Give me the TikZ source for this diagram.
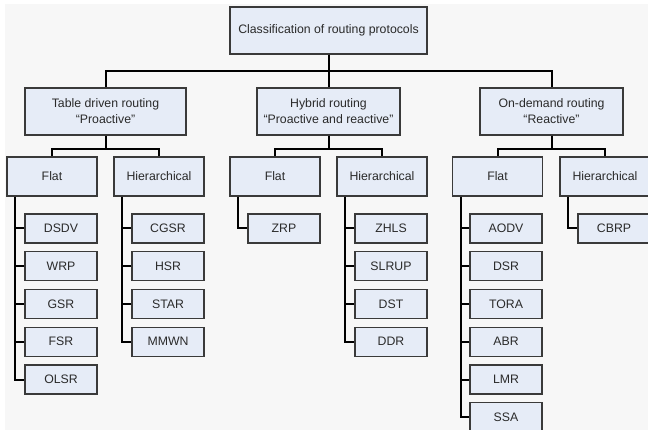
\documentclass[tikz,border=0pt]{standalone}
\usepackage{fontspec}
\setmainfont{Liberation Sans}
\definecolor{boxfill}{HTML}{E6ECF7}
\definecolor{boxline}{HTML}{3A3A3A}
\definecolor{boxtext}{HTML}{2A2A2A}
\definecolor{paper}{HTML}{F7F7F7}
\begin{document}
\begin{tikzpicture}[x=1pt,y=-1pt,
  box/.style={draw=boxline,fill=boxfill,line width=1.2pt,inner sep=0pt,align=center,
    text=boxtext,font=\fontsize{12.3}{16}\selectfont},
  head/.style={box,minimum width=197,minimum height=47},
  kind/.style={box,minimum width=143,minimum height=47},
  sub/.style={box,minimum width=90,minimum height=39},
  leaf/.style={box,minimum width=72,minimum height=29},
  link/.style={line width=2pt,black}]
\def\dy{37.75} \def\ytop{228.5}
\useasboundingbox (0,0) rectangle (648,430);
\clip (0,0) rectangle (648,430);
\fill[white] (0,0) rectangle (648,430);
\fill[paper] (5,4) rectangle (648,430);

% root and the three kinds
\node[head] (root) at (328.5,30.5) {Classification of routing protocols};
\node[kind,minimum width=161] (tab) at (105.5,111.5) {Table driven routing\\“Proactive”};
\node[kind] (hyb) at (328.5,111.5) {Hybrid routing\\“Proactive and reactive”};
\node[kind] (ond) at (551.5,111.5) {On-demand routing\\“Reactive”};

% flat / hierarchical
\node[sub] (tabflat) at (52,176.5) {Flat};
\node[sub] (tabhier) at (159,176.5) {Hierarchical};
\node[sub] (hybflat) at (275,176.5) {Flat};
\node[sub] (hybhier) at (382,176.5) {Hierarchical};
\node[sub] (ondflat) at (497.5,176.5) {Flat};
\node[sub] (ondhier) at (605,176.5) {Hierarchical};

% protocols
\foreach \n [count=\i from 0] in {DSDV,WRP,GSR,FSR,OLSR}
  \node[leaf] (\n) at (61,{\ytop+\i*\dy}) {\n};
\foreach \n [count=\i from 0] in {CGSR,HSR,STAR,MMWN}
  \node[leaf] (\n) at (168,{\ytop+\i*\dy}) {\n};
\node[leaf] (ZRP) at (284,\ytop) {ZRP};
\foreach \n [count=\i from 0] in {ZHLS,SLRUP,DST,DDR}
  \node[leaf] (\n) at (391,{\ytop+\i*\dy}) {\n};
\foreach \n [count=\i from 0] in {AODV,DSR,TORA,ABR,LMR,SSA}
  \node[leaf] (\n) at (506,{\ytop+\i*\dy}) {\n};
\node[leaf] (CBRP) at (614,\ytop) {CBRP};

% connectors
\foreach \c in {tab,hyb,ond}
  \draw[link] (root.south) -- ++(0,16) -| (\c.north);
\foreach \p/\c in {tab/tabflat,tab/tabhier,hyb/hybflat,hyb/hybhier,ond/ondflat,ond/ondhier}
  \draw[link] (\p.south) -- ++(0,13) -| (\c.north);
\foreach \p/\l in {tabflat/OLSR,tabhier/MMWN,hybflat/ZRP,hybhier/DDR,ondflat/SSA,ondhier/CBRP}
  \draw[link] (\p.south west) ++(9,0) |- (\l.west);
\foreach \l in {DSDV,WRP,GSR,FSR,CGSR,HSR,STAR,ZHLS,SLRUP,DST,AODV,DSR,TORA,ABR,LMR}
  \draw[link] (\l.west) -- ++(-9,0);
\end{tikzpicture}
\end{document}
